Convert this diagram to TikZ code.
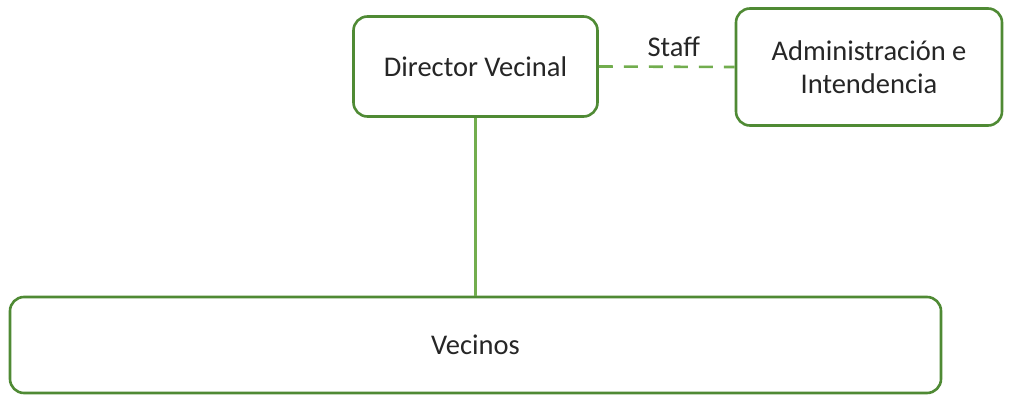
\documentclass[tikz,border=0pt]{standalone}
\usepackage{fontspec}
\setmainfont{Carlito}
\definecolor{boxgreen}{HTML}{4F8A34}
\definecolor{linkgreen}{HTML}{72AD4E}
\begin{document}
\begin{tikzpicture}[x=1pt,y=-1pt,
  orgbox/.style={draw=boxgreen,line width=2.6pt,rounded corners=14pt,fill=white,
    font=\fontsize{28.5}{33}\selectfont,align=center,text=black!85},
  link/.style={draw=linkgreen,line width=2.6pt}]
  \useasboundingbox (0,0) rectangle (1020,396);
  % boxes sized by their corners
  \node[orgbox,minimum width=244pt,minimum height=100pt] (dir) at (475.5,66.5) {Director Vecinal};
  \node[orgbox,minimum width=266pt,minimum height=117pt] (adm) at (869,67) {Administración e\\Intendencia};
  \node[orgbox,minimum width=931pt,minimum height=96pt] (vec) at (475.5,345) {Vecinos};
  % connectors
  \draw[link] (dir.south) -- (vec.north);
  \draw[link,dash pattern=on 14pt off 11pt] (dir.east) -- node[above=5.5pt,xshift=7pt,font=\fontsize{28.5}{30}\selectfont,text=black!85] (staff) {Staff} (adm.west);
\end{tikzpicture}
\end{document}
